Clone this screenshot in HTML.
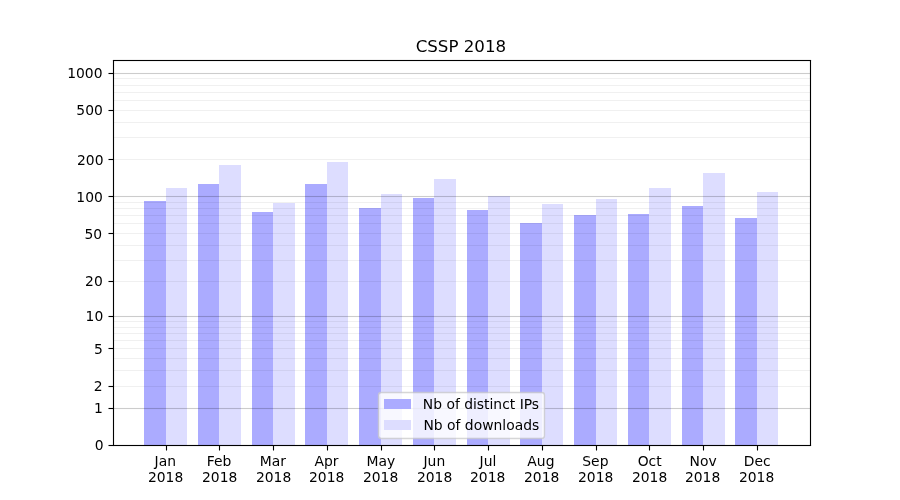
<!DOCTYPE html>
<html lang="en">
<head>
<meta charset="utf-8">
<title>CSSP 2018</title>
<style>
html,body{margin:0;padding:0;background:#fff;width:900px;height:500px;overflow:hidden}
svg{display:block}
text{font-family:"DejaVu Sans","Liberation Sans",sans-serif;fill:#000}
.t10{font-size:13.889px}
.t12{font-size:16.667px}
</style>
</head>
<body>
<svg width="900" height="500" viewBox="0 0 900 500">
<rect x="0" y="0" width="900" height="500" fill="#ffffff"/>
<g shape-rendering="crispEdges">
 <g fill="#ababff">
  <rect x="144" y="201" width="22" height="244"/>
  <rect x="198" y="184" width="21" height="261"/>
  <rect x="252" y="212" width="21" height="233"/>
  <rect x="305" y="184" width="22" height="261"/>
  <rect x="359" y="208" width="22" height="237"/>
  <rect x="413" y="198" width="21" height="247"/>
  <rect x="467" y="210" width="21" height="235"/>
  <rect x="520" y="223" width="22" height="222"/>
  <rect x="574" y="215" width="22" height="230"/>
  <rect x="628" y="214" width="21" height="231"/>
  <rect x="682" y="206" width="21" height="239"/>
  <rect x="735" y="218" width="22" height="227"/>
 </g>
 <g fill="#ddddff">
  <rect x="166" y="188" width="21" height="257"/>
  <rect x="219" y="165" width="22" height="280"/>
  <rect x="273" y="203" width="22" height="242"/>
  <rect x="327" y="162" width="21" height="283"/>
  <rect x="381" y="194" width="21" height="251"/>
  <rect x="434" y="179" width="22" height="266"/>
  <rect x="488" y="196" width="22" height="249"/>
  <rect x="542" y="204" width="21" height="241"/>
  <rect x="596" y="199" width="21" height="246"/>
  <rect x="649" y="188" width="22" height="257"/>
  <rect x="703" y="173" width="22" height="272"/>
  <rect x="757" y="192" width="21" height="253"/>
 </g>
</g>
<g fill="#000000" stroke="none">
 <g fill-opacity="0.06">
  <rect x="113.5" y="385.9445" width="697" height="1.111"/>
  <rect x="113.5" y="369.9445" width="697" height="1.111"/>
  <rect x="113.5" y="357.9445" width="697" height="1.111"/>
  <rect x="113.5" y="347.9445" width="697" height="1.111"/>
  <rect x="113.5" y="339.9445" width="697" height="1.111"/>
  <rect x="113.5" y="332.9445" width="697" height="1.111"/>
  <rect x="113.5" y="326.9445" width="697" height="1.111"/>
  <rect x="113.5" y="320.9445" width="697" height="1.111"/>
  <rect x="113.5" y="280.9445" width="697" height="1.111"/>
  <rect x="113.5" y="259.9445" width="697" height="1.111"/>
  <rect x="113.5" y="244.9445" width="697" height="1.111"/>
  <rect x="113.5" y="232.9445" width="697" height="1.111"/>
  <rect x="113.5" y="222.9445" width="697" height="1.111"/>
  <rect x="113.5" y="214.9445" width="697" height="1.111"/>
  <rect x="113.5" y="207.9445" width="697" height="1.111"/>
  <rect x="113.5" y="201.9445" width="697" height="1.111"/>
  <rect x="113.5" y="158.9445" width="697" height="1.111"/>
  <rect x="113.5" y="136.9445" width="697" height="1.111"/>
  <rect x="113.5" y="121.9445" width="697" height="1.111"/>
  <rect x="113.5" y="109.9445" width="697" height="1.111"/>
  <rect x="113.5" y="99.9445" width="697" height="1.111"/>
  <rect x="113.5" y="91.9445" width="697" height="1.111"/>
  <rect x="113.5" y="84.9445" width="697" height="1.111"/>
  <rect x="113.5" y="77.9445" width="697" height="1.111"/>
 </g>
 <g fill-opacity="0.2">
  <rect x="113.5" y="407.9445" width="697" height="1.111"/>
  <rect x="113.5" y="315.9445" width="697" height="1.111"/>
  <rect x="113.5" y="195.9445" width="697" height="1.111"/>
  <rect x="113.5" y="72.9445" width="697" height="1.111"/>
 </g>
</g>
<g stroke="#000000" stroke-width="1.111" fill="none">
 <path d="M166.5 445.5V450.5"/>
 <path d="M219.5 445.5V450.5"/>
 <path d="M273.5 445.5V450.5"/>
 <path d="M327.5 445.5V450.5"/>
 <path d="M381.5 445.5V450.5"/>
 <path d="M434.5 445.5V450.5"/>
 <path d="M488.5 445.5V450.5"/>
 <path d="M542.5 445.5V450.5"/>
 <path d="M596.5 445.5V450.5"/>
 <path d="M649.5 445.5V450.5"/>
 <path d="M703.5 445.5V450.5"/>
 <path d="M757.5 445.5V450.5"/>
 <rect x="108.5" y="444.9445" width="5" height="1.111" fill="#000" stroke="none"/>
 <rect x="108.5" y="407.9445" width="5" height="1.111" fill="#000" stroke="none"/>
 <rect x="108.5" y="385.9445" width="5" height="1.111" fill="#000" stroke="none"/>
 <rect x="108.5" y="347.9445" width="5" height="1.111" fill="#000" stroke="none"/>
 <rect x="108.5" y="315.9445" width="5" height="1.111" fill="#000" stroke="none"/>
 <rect x="108.5" y="280.9445" width="5" height="1.111" fill="#000" stroke="none"/>
 <rect x="108.5" y="232.9445" width="5" height="1.111" fill="#000" stroke="none"/>
 <rect x="108.5" y="195.9445" width="5" height="1.111" fill="#000" stroke="none"/>
 <rect x="108.5" y="158.9445" width="5" height="1.111" fill="#000" stroke="none"/>
 <rect x="108.5" y="109.9445" width="5" height="1.111" fill="#000" stroke="none"/>
 <rect x="108.5" y="72.9445" width="5" height="1.111" fill="#000" stroke="none"/>
 <path d="M113.5 59.9445V446.0555M810.5 59.9445V446.0555"/>
 <rect x="112.9445" y="59.9445" width="698.111" height="1.111" fill="#000" stroke="none"/>
 <rect x="112.9445" y="444.9445" width="698.111" height="1.111" fill="#000" stroke="none"/>
</g>
<g class="t10" text-anchor="end">
 <text x="103.67" y="450">0</text>
 <text x="102.86" y="413">1</text>
 <text x="102.66" y="391">2</text>
 <text x="102.75" y="354">5</text>
 <text x="103.25" y="321">10</text>
 <text x="102.74" y="286">20</text>
 <text x="102.19" y="239">50</text>
 <text x="102.81" y="202">100</text>
 <text x="103.51" y="165">200</text>
 <text x="102.80" y="115">500</text>
 <text x="102.49" y="78">1000</text>
</g>
<g class="t10" text-anchor="middle">
 <text x="165.28" y="466">Jan</text>
 <text x="165.64" y="482">2018</text>
 <text x="218.98" y="466">Feb</text>
 <text x="219.65" y="482">2018</text>
 <text x="272.88" y="466">Mar</text>
 <text x="273.62" y="482">2018</text>
 <text x="326.46" y="466">Apr</text>
 <text x="326.65" y="482">2018</text>
 <text x="380.88" y="466">May</text>
 <text x="380.64" y="482">2018</text>
 <text x="434.36" y="466">Jun</text>
 <text x="434.64" y="482">2018</text>
 <text x="487.97" y="466">Jul</text>
 <text x="487.67" y="482">2018</text>
 <text x="540.91" y="466">Aug</text>
 <text x="541.66" y="482">2018</text>
 <text x="595.37" y="466">Sep</text>
 <text x="595.65" y="482">2018</text>
 <text x="649.67" y="466">Oct</text>
 <text x="649.64" y="482">2018</text>
 <text x="703.07" y="466">Nov</text>
 <text x="702.62" y="482">2018</text>
 <text x="757.20" y="466">Dec</text>
 <text x="756.62" y="482">2018</text>
</g>
<text class="t12" text-anchor="middle" x="460.90" y="52">CSSP 2018</text>
<g>
 <rect x="378.5" y="392.5" width="166" height="46" rx="2.78" ry="2.78" fill="#ffffff" stroke="#cccccc" stroke-width="1.389" opacity="0.8"/>
 <rect x="384" y="399" width="27" height="10" fill="#ababff" shape-rendering="crispEdges"/>
 <rect x="384" y="420" width="27" height="10" fill="#ddddff" shape-rendering="crispEdges"/>
 <text class="t10" x="422.80" y="409">Nb of distinct IPs</text>
 <text class="t10" x="423.47" y="430">Nb of downloads</text>
</g>
</svg>
</body>
</html>
